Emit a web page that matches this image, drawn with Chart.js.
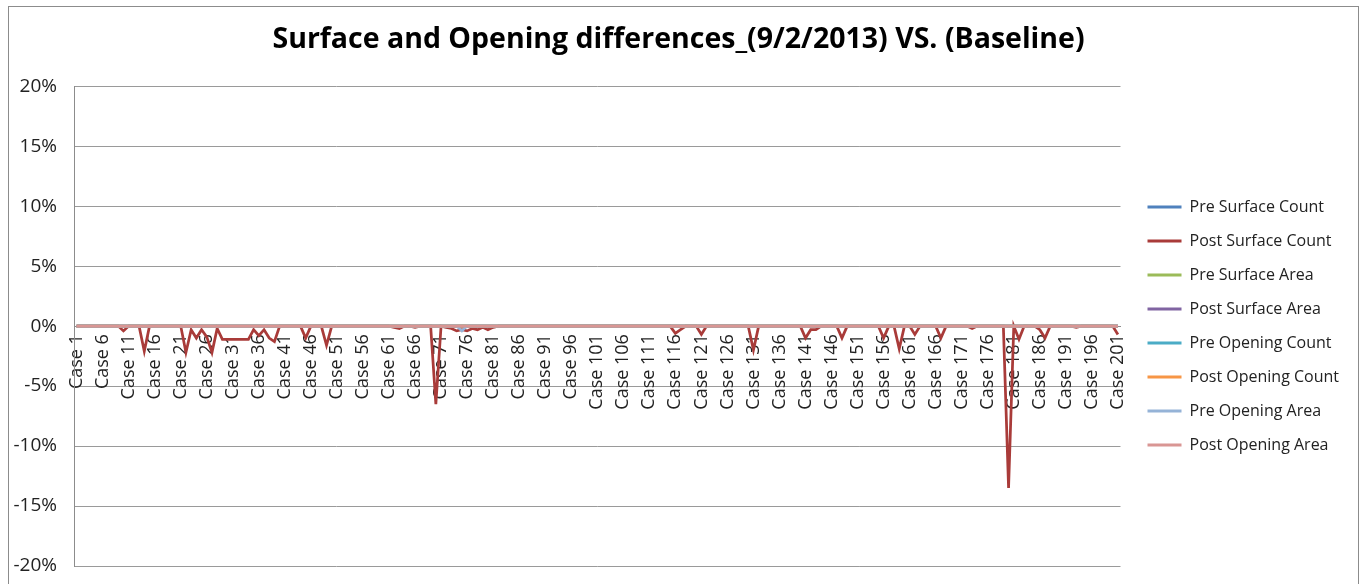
<!DOCTYPE html>
<html>
<head>
<meta charset="utf-8">
<title>Surface and Opening differences</title>
<script src="https://cdn.jsdelivr.net/npm/chart.js@4.4.1/dist/chart.umd.min.js"></script>
<style>
  html, body { margin: 0; padding: 0; background: #fff; overflow: hidden; }
  #wrap { position: absolute; left: 0; top: 0; width: 1363px; height: 584px; }
  #frame { position: absolute; left: 8px; top: 6px; width: 1349px; height: 600px; border: 1px solid #8c8c8c; pointer-events: none; }
</style>
</head>
<body>
<div id="wrap"><canvas id="chart"></canvas></div>
<div id="frame"></div>
<script>
// categories: Case 1 ... Case 201
const caseCount = 201;
const cases = [];
for (let i = 1; i <= caseCount; i++) cases.push('Case ' + i);

const seriesNames = [
  'Pre Surface Count', 'Post Surface Count', 'Pre Surface Area', 'Post Surface Area',
  'Pre Opening Count', 'Post Opening Count', 'Pre Opening Area', 'Post Opening Area'
];
const seriesColors = [
  '#4F81BD', '#A93B39', '#9BBB59', '#8064A2',
  '#4BACC6', '#F79646', '#95B3D7', '#D99694'
];

// y axis ticks (percent)
const yTicks = [-20, -15, -10, -5, 0, 5, 10, 15, 20];

// series that stay at 0% for every case
const flatSeries = Array(caseCount).fill(0);

// Post Surface Count, percent, Case 1..201 (10 per row)
const postSurfaceCount = [
  0, 0, 0, 0, 0, 0, 0, 0, 0, -0.4,
  0, 0, 0, -2.1, 0, 0, 0, 0, 0, 0,
  0, -2.2, -0.3, -1.0, -0.3, -0.9, -2.2, -0.2, -1.1, -1.1,
  -1.1, -1.1, -1.1, -1.1, -0.3, -0.8, -0.3, -1.0, -1.3, 0,
  0, 0, 0, 0, -1.0, 0, 0, 0, -1.6, 0,
  0, 0, 0, 0, 0, 0, 0, 0, 0, 0,
  0, -0.1, -0.2, 0, 0, -0.1, 0, 0, 0, -6.5,
  0, -0.1, -0.2, -0.4, -0.3, -0.4, -0.2, -0.3, -0.1, -0.3,
  -0.1, 0, 0, 0, 0, 0, 0, 0, 0, 0,
  0, 0, 0, 0, 0, 0, 0, 0, 0, 0,
  0, 0, 0, 0, 0, 0, 0, 0, 0, 0,
  0, 0, 0, 0, 0, -0.6, -0.3, 0, 0, 0,
  -0.7, 0, 0, 0, 0, 0, 0, 0, 0, 0,
  -2.0, 0, 0, 0, 0, 0, 0, 0, 0, 0,
  -1.0, -0.3, -0.3, 0, 0, 0, 0, -1.0, 0, 0,
  0, 0, 0, 0, 0, -1.0, 0, 0, -1.9, 0,
  0, -0.7, 0, 0, 0, 0, -1.0, 0, 0, 0,
  0, 0, -0.2, 0, 0, 0, 0, 0, 0, -13.5,
  0, -1.1, 0, 0, 0, -0.3, -1.0, 0, 0, 0,
  0, 0, -0.1, 0, 0, 0, 0, 0, 0, 0,
  -0.7
];

// Pre Opening Area, percent: one small dip near Case 75
const preOpeningArea = flatSeries.slice();
preOpeningArea[74] = -0.4;

const seriesData = [
  flatSeries, postSurfaceCount, flatSeries, flatSeries,
  flatSeries, flatSeries, preOpeningArea, flatSeries
];

const family = "'Open Sans', 'Liberation Sans', sans-serif";

const datasets = seriesNames.map((name, i) => ({
  label: name,
  data: seriesData[i],
  borderColor: seriesColors[i],
  backgroundColor: seriesColors[i],
  borderWidth: 2.75,
  pointRadius: 0,
  tension: 0,
  order: seriesNames.length - i   // later series drawn on top, as in Excel
}));

new Chart(document.getElementById('chart'), {
  type: 'line',
  data: { labels: cases, datasets: datasets },
  options: {
    responsive: true,
    maintainAspectRatio: false,
    animation: false,
    layout: { padding: { left: 8, right: 14, top: 0, bottom: 18 } },
    scales: {
      x: {
        type: 'category',
        position: { y: 0 },
        offset: true,
        grid: { display: false, drawTicks: false },
        border: { display: true, color: '#8c8c8c' },
        ticks: {
          autoSkip: false,
          minRotation: 90,
          maxRotation: 90,
          padding: 8,
          color: '#222',
          font: { family: family, size: 18 },
          callback: (v, i) => (i % 5 === 0 ? cases[i] : null)
        }
      },
      y: {
        min: -20,
        max: 20,
        afterBuildTicks: s => { s.ticks = yTicks.map(v => ({ value: v })); },
        // invisible tick marks give the gap between labels and the axis
        grid: { color: '#9a9a9a', lineWidth: 1, drawTicks: true, tickLength: 12, tickColor: 'rgba(0,0,0,0)' },
        border: { display: true, color: '#8c8c8c' },
        ticks: {
          padding: 5,
          color: '#222',
          font: { family: family, size: 19 },
          callback: v => v + '%'
        },
        afterFit: s => { s.width = 66; }
      },
      y2: {
        position: 'right',
        display: true,
        grid: { display: false, drawTicks: false },
        border: { display: false },
        ticks: { display: false },
        afterFit: s => { s.width = 9; }
      }
    },
    plugins: {
      title: {
        display: true,
        text: 'Surface and Opening differences_(9/2/2013) VS. (Baseline)',
        color: '#000',
        font: { family: family, size: 28.5, weight: 'bold' },
        padding: { top: 23, bottom: 29 }
      },
      legend: {
        position: 'right',
        fullSize: false,
        labels: {
          boxWidth: 34,
          boxHeight: 3,
          padding: 18,
          color: '#222',
          font: { family: family, size: 16 },
          sort: (a, b) => a.datasetIndex - b.datasetIndex,
          generateLabels: chart =>
            Chart.defaults.plugins.legend.labels.generateLabels(chart).map(l => ({ ...l, lineWidth: 0 }))
        }
      },
      tooltip: { enabled: false }
    }
  }
});
</script>
</body>
</html>
